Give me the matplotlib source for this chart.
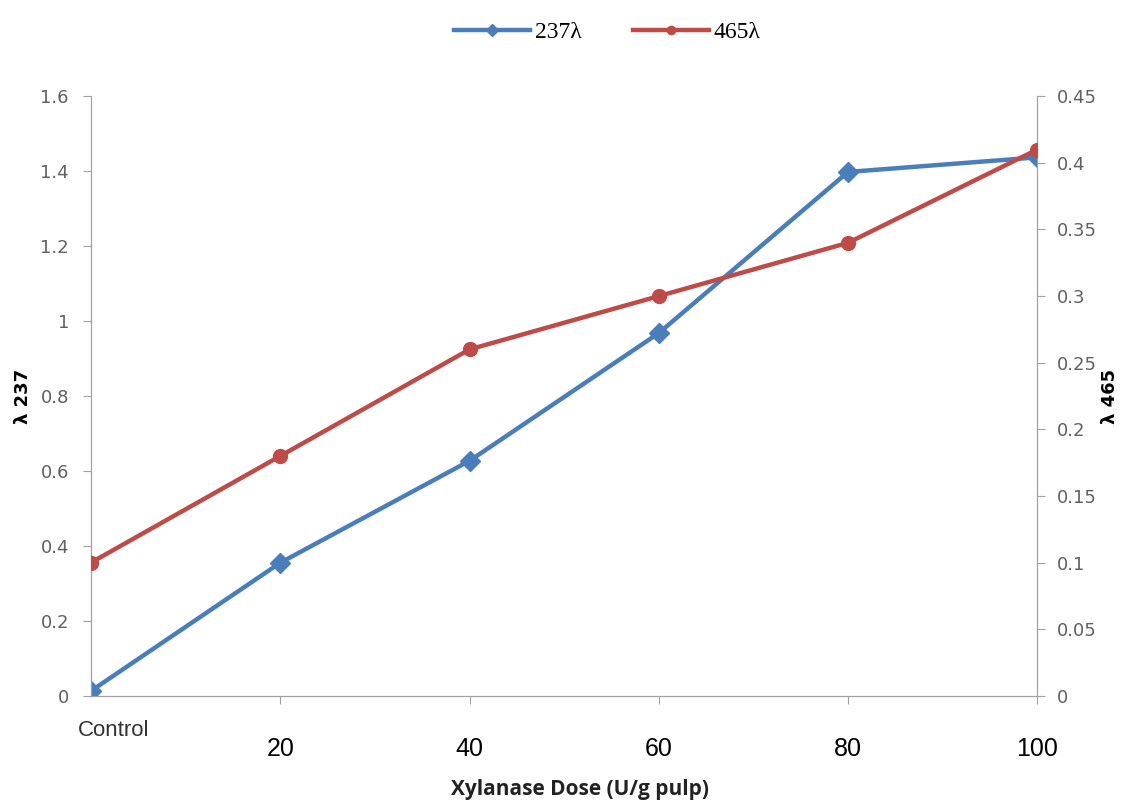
import matplotlib
matplotlib.use("Agg")
import matplotlib.pyplot as plt
from matplotlib.lines import Line2D

# absorbance readings at each xylanase dose
doses = ["Control", "20", "40", "60", "80", "100"]
abs_237 = [0.013, 0.355, 0.627, 0.968, 1.398, 1.437]
abs_465 = [0.10, 0.18, 0.26, 0.30, 0.34, 0.41]

left_ticks = [0, 0.2, 0.4, 0.6, 0.8, 1, 1.2, 1.4, 1.6]
right_ticks = [0, 0.05, 0.1, 0.15, 0.2, 0.25, 0.3, 0.35, 0.4, 0.45]

blue = "#4a7ebb"
red = "#be4b48"
axis_grey = "#a0a0a0"
label_grey = "#606060"

fig = plt.figure(figsize=(11.25, 8.09), dpi=100)
ax = fig.add_axes([0.081, 0.140, 0.841, 0.741])
ax2 = ax.twinx()

x = list(range(len(doses)))
ax.plot(x, abs_237, color=blue, lw=3.2, marker="D", ms=10, zorder=3)
ax2.plot(x, abs_465, color=red, lw=3.2, marker="o", ms=10, zorder=3)

ax.set_xlim(0, len(doses) - 1)
ax.set_ylim(0, 1.6)
ax2.set_ylim(0, 0.45)

ax.set_yticks(left_ticks)
ax.set_yticklabels([f"{v:g}" for v in left_ticks], color=label_grey, fontsize=13)
ax2.set_yticks(right_ticks)
ax2.set_yticklabels([f"{v:g}" for v in right_ticks], color=label_grey, fontsize=13)

# category ticks; the first label sits offset by itself
ax.set_xticks(x[1:])
ax.set_xticklabels(doses[1:], fontsize=18, family=["Liberation Sans", "DejaVu Sans"])
ax.tick_params(axis="x", length=6, color=axis_grey, pad=24)
ax.text(0.12, -0.04, doses[0], transform=ax.get_xaxis_transform(), ha="center", va="top",
        fontsize=16, color="#333333", family=["Liberation Sans", "DejaVu Sans"])

for a in (ax, ax2):
    for s in a.spines.values():
        s.set_color(axis_grey)
    a.spines["top"].set_visible(False)
ax.tick_params(axis="y", length=6, color=axis_grey, pad=10)
ax2.tick_params(axis="y", length=6, color=axis_grey, pad=8)

ax.set_ylabel("λ 237", fontsize=13, fontweight="bold", labelpad=6)
fig.text(1110 / 1125, 0.51, "λ 465", rotation=90, ha="center", va="center",
         fontsize=13, fontweight="bold")
fig.text(580 / 1125, 1 - 790 / 809, "Xylanase Dose (U/g pulp)", ha="center", va="center",
         fontsize=15, fontweight="bold", family=["Open Sans", "DejaVu Sans"], color="#222222")

handles = [
    Line2D([], [], color=blue, lw=3.2, marker="D", ms=6),
    Line2D([], [], color=red, lw=3.2, marker="o", ms=6),
]
fig.legend(handles, ["237λ", "465λ"], loc="upper center", bbox_to_anchor=(0.54, 1.0),
           ncol=2, frameon=False, handlelength=3.2, handletextpad=0.2, columnspacing=2.2,
           prop={"family": ["Liberation Serif", "DejaVu Serif"], "size": 17})

fig.savefig("out.png", dpi=100)
